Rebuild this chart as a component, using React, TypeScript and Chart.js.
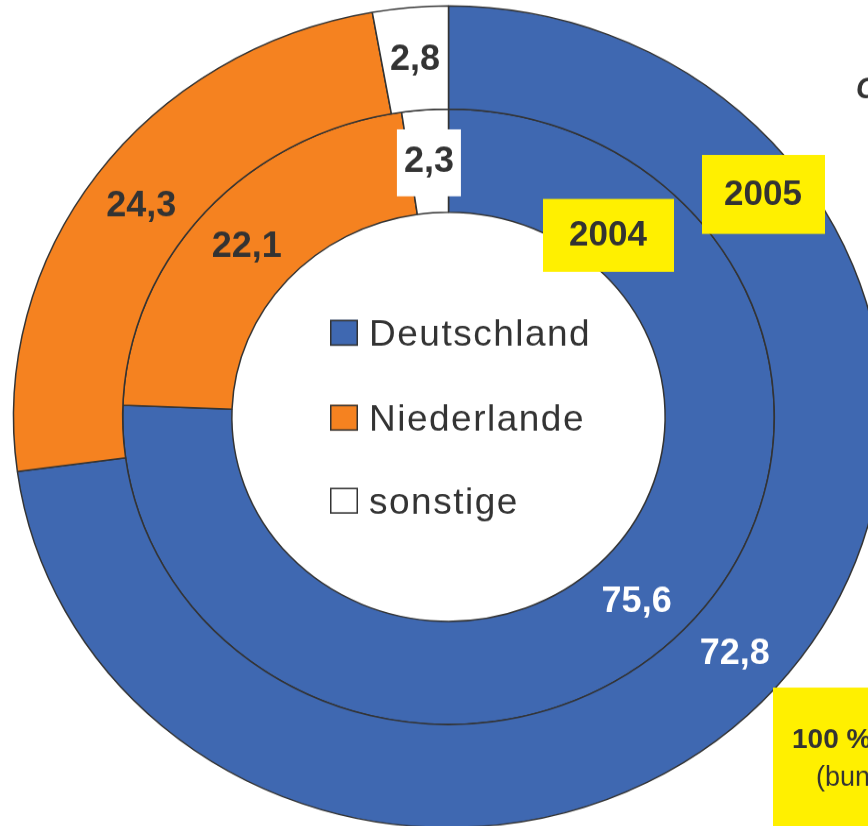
import React, { useEffect, useRef } from "react";
import { Chart, registerables } from "chart.js";

Chart.register(...registerables);

// ---- data ----
const categories = ["Deutschland", "Niederlande", "sonstige"];
const years = ["2005", "2004"]; // outer ring, inner ring
const values2005 = [72.8, 24.3, 2.8];
const values2004 = [75.6, 22.1, 2.3];
const sliceColors = ["#3F68B1", "#F58220", "#FFFFFF"];
const labelColors = ["#FFFFFF", "#333333", "#333333"];
const noteLines = ["100 %", "(bundesweit)"];
const cornerText = "C";

// ---- geometry of the picture ----
const SY = 0.945; // vertical squash of the original
const CW = 900;
const CH = 882;
const DARK = "#333333";
const YELLOW = "#FFF000";
const FONT = "'Liberation Sans', Arial, Helvetica, sans-serif";

const fmt = (v: number) => v.toFixed(1).replace(".", ",");

const overlayPlugin = {
  id: "overlayPlugin",
  afterDatasetsDraw(chart: any) {
    const ctx = chart.ctx as CanvasRenderingContext2D;

    // slice labels at arc centroids
    chart.data.datasets.forEach((ds: any, di: number) => {
      const meta = chart.getDatasetMeta(di);
      meta.data.forEach((arc: any, i: number) => {
        const p = arc.tooltipPosition();
        ctx.save();
        ctx.translate(p.x, p.y);
        ctx.scale(1, 1 / SY);
        ctx.font = `bold 36px ${FONT}`;
        ctx.textAlign = "center";
        ctx.textBaseline = "middle";
        if (di === 1 && i === 2) {
          ctx.fillStyle = "#FFFFFF";
          ctx.fillRect(-32, -32, 64, 67);
        }
        ctx.fillStyle = labelColors[i];
        ctx.fillText(fmt(ds.data[i]), 0, 1);
        ctx.restore();
      });
    });

    // screen-space drawing
    ctx.save();
    ctx.scale(1, 1 / SY);

    // legend in the hole
    const rowY = [346, 431, 514];
    categories.forEach((c, i) => {
      const top = rowY[i] - 26;
      ctx.fillStyle = sliceColors[i];
      ctx.fillRect(330, top, 28, 26);
      ctx.strokeStyle = DARK;
      ctx.lineWidth = 1.5;
      ctx.strokeRect(330.75, top + 0.75, 26.5, 24.5);
      ctx.fillStyle = DARK;
      ctx.font = `37px ${FONT}`;
      (ctx as any).letterSpacing = "1.5px";
      ctx.textAlign = "left";
      ctx.textBaseline = "alphabetic";
      ctx.fillText(c, 369, rowY[i]);
      (ctx as any).letterSpacing = "0px";
    });

    // year boxes
    const yearBoxes = [
      { t: years[1], x: 543, y: 199, w: 131, h: 73, cx: 608, cy: 235 },
      { t: years[0], x: 702, y: 155, w: 123, h: 79, cx: 763, cy: 194 },
    ];
    yearBoxes.forEach((b) => {
      ctx.fillStyle = YELLOW;
      ctx.fillRect(b.x, b.y, b.w, b.h);
      ctx.fillStyle = DARK;
      ctx.font = `bold 35px ${FONT}`;
      ctx.textAlign = "center";
      ctx.textBaseline = "middle";
      ctx.fillText(b.t, b.cx, b.cy + 1);
    });

    // note box bottom right
    ctx.fillStyle = YELLOW;
    ctx.fillRect(773, 688, 120, 160);
    ctx.fillStyle = DARK;
    ctx.textAlign = "left";
    ctx.textBaseline = "alphabetic";
    ctx.font = `bold 28px ${FONT}`;
    ctx.fillText(noteLines[0], 792, 748);
    ctx.font = `27px ${FONT}`;
    ctx.fillText(noteLines[1], 816, 786);

    // cut-off text top right
    ctx.font = `bold italic 29px ${FONT}`;
    ctx.fillText(cornerText, 856, 98);

    ctx.restore();
  },
};

export default function App() {
  const ref = useRef<HTMLCanvasElement | null>(null);

  useEffect(() => {
    if (!ref.current) return;
    const chart = new Chart(ref.current, {
      type: "doughnut",
      data: {
        labels: categories,
        datasets: [
          {
            label: years[0],
            data: values2005,
            backgroundColor: sliceColors,
            borderColor: DARK,
            borderWidth: 1.5,
            hoverBorderWidth: 1.5,
          },
          {
            label: years[1],
            data: values2004,
            backgroundColor: sliceColors,
            borderColor: DARK,
            borderWidth: 1.5,
            hoverBorderWidth: 1.5,
          },
        ],
      },
      options: {
        responsive: false,
        animation: false,
        events: [],
        cutout: "49.8%",
        rotation: 0,
        layout: {
          padding: { left: 12.75, right: 15.75, top: 5.55, bottom: 4.95 },
        },
        plugins: {
          legend: { display: false },
          tooltip: { enabled: false },
          title: { display: false },
        },
      },
      plugins: [overlayPlugin],
    } as any);
    return () => chart.destroy();
  }, []);

  return (
    <div
      style={{
        position: "fixed",
        left: 0,
        top: 0,
        width: 868,
        height: 826,
        overflow: "hidden",
        background: "#FFFFFF",
      }}
    >
      <canvas
        ref={ref}
        width={CW}
        height={CH}
        style={{
          position: "absolute",
          left: 0,
          top: 0,
          width: `${CW}px`,
          height: `${CH * SY}px`,
          display: "block",
        }}
      />
    </div>
  );
}
